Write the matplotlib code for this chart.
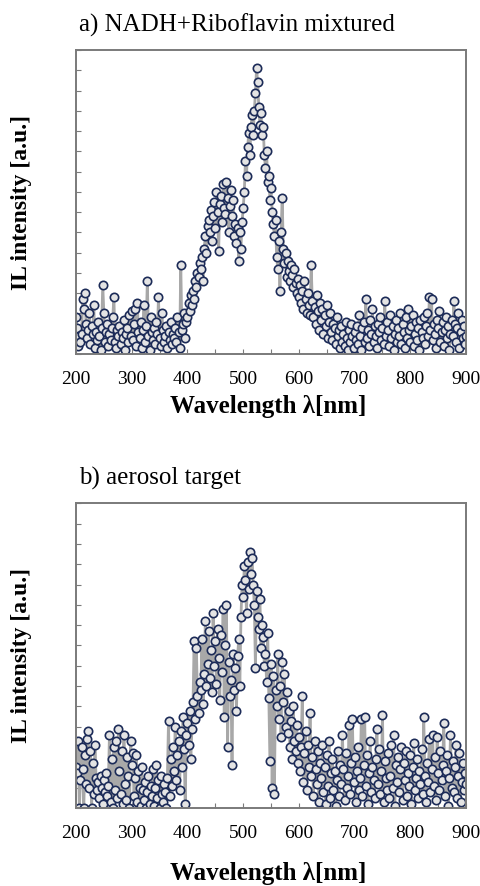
"""Intrinsic luminescence spectra: a) NADH+Riboflavin, b) aerosol target"""

import numpy as np
import matplotlib.pyplot as plt
from matplotlib.ticker import MultipleLocator

plt.rcParams["font.family"] = ["Liberation Serif", "DejaVu Serif"]

# wavelength grid of the spectrometer (2 nm sampling)
wavelength = np.arange(200, 901, 2)

# intensity, tenths of a y-tick unit
nadh_riboflavin = [
    18, 13, 4, 9, 6, 10, 27, 22, 30, 15,
    8, 12, 20, 5, 14, 10, 24, 3, 11, 7,
    16, 9, 2, 13, 34, 20, 6, 11, 15, 4,
    10, 7, 13, 18, 28, 6, 3, 12, 9, 14,
    5, 11, 8, 17, 2, 10, 13, 6, 19, 9,
    21, 7, 15, 22, 4, 25, 11, 8, 16, 3,
    12, 24, 6, 14, 36, 9, 2, 18, 11, 7,
    13, 5, 16, 10, 28, 8, 4, 20, 12, 6,
    9, 14, 3, 11, 7, 16, 5, 10, 8, 13,
    6, 18, 11, 3, 44, 12, 15, 20, 8, 16,
    18, 25, 21, 29, 24, 31, 27, 36, 33, 40,
    38, 45, 42, 48, 36, 52, 58, 50, 63, 66,
    60, 71, 56, 68, 75, 62, 80, 70, 51, 74,
    78, 65, 84, 72, 69, 85, 77, 60, 73, 81,
    68, 76, 58, 64, 55, 62, 46, 60, 52, 65,
    72, 80, 95, 88, 102, 109, 98, 112, 118, 108,
    120, 129, 141, 134, 122, 113, 119, 108, 112, 98,
    92, 100, 85, 88, 76, 82, 70, 64, 58, 66,
    48, 42, 56, 31, 60, 77, 52, 45, 50, 38,
    46, 41, 36, 44, 39, 33, 42, 35, 30, 37,
    28, 34, 25, 31, 22, 36, 27, 20, 30, 24,
    19, 44, 26, 18, 23, 15, 29, 21, 12, 25,
    17, 22, 10, 19, 14, 24, 8, 16, 20, 11,
    7, 15, 13, 5, 18, 9, 12, 3, 14, 6,
    10, 4, 16, 8, 2, 12, 6, 15, 9, 3,
    11, 7, 14, 5, 19, 9, 2, 13, 16, 6,
    27, 8, 12, 4, 17, 10, 22, 6, 14, 9,
    3, 15, 11, 18, 7, 13, 5, 26, 9, 16,
    12, 4, 19, 8, 14, 2, 10, 17, 6, 13,
    9, 20, 5, 15, 11, 3, 18, 8, 22, 12,
    6, 14, 19, 4, 10, 16, 7, 13, 2, 17,
    11, 8, 18, 5, 14, 20, 9, 28, 12, 27,
    7, 15, 10, 3, 17, 13, 21, 6, 11, 16,
    4, 12, 18, 8, 14, 2, 10, 17, 9, 26,
    15, 6, 13, 20, 3, 11, 17, 8, 14, 5,
    9,
]

aerosol = [
    20, 17, 33, 0, 14, 30, 19, 0, 26, 12,
    34, 38, 10, 28, 0, 22, 7, 31, 15, 9,
    13, 5, 16, 10, 2, 14, 8, 17, 6, 11,
    36, 3, 24, 0, 30, 9, 33, 5, 39, 18,
    7, 28, 2, 36, 12, 4, 25, 16, 0, 33,
    21, 27, 6, 15, 26, 3, 18, 10, 1, 20,
    9, 4, 13, 0, 8, 16, 2, 11, 6, 19,
    1, 10, 21, 5, 14, 0, 16, 7, 3, 12,
    8, 0, 15, 43, 6, 24, 11, 30, 18, 40,
    14, 26, 33, 9, 38, 20, 45, 29, 2, 36,
    42, 31, 48, 24, 39, 52, 82, 44, 79, 55,
    47, 62, 58, 83, 51, 66, 92, 60, 71, 87,
    64, 78, 57, 96, 70, 82, 61, 88, 74, 53,
    85, 67, 98, 45, 80, 100, 30, 72, 55, 63,
    21, 76, 58, 69, 48, 75, 83, 60, 94, 110,
    104, 119, 112, 96, 121, 108, 126, 115, 123, 110,
    100, 69, 107, 94, 88, 103, 79, 90, 84, 70,
    76, 62, 86, 54, 23, 71, 10, 65, 7, 58,
    50, 76, 44, 60, 35, 72, 52, 66, 40, 57,
    37, 48, 30, 43, 24, 50, 33, 28, 41, 22,
    35, 18, 30, 55, 13, 27, 38, 9, 31, 20,
    47, 16, 25, 6, 33, 19, 12, 28, 3, 22,
    15, 31, 8, 20, 2, 26, 11, 33, 5, 17,
    24, 9, 18, 1, 14, 28, 6, 21, 12, 36,
    19, 4, 27, 10, 16, 41, 7, 22, 44, 13,
    25, 3, 18, 30, 9, 15, 44, 6, 21, 45,
    11, 26, 2, 17, 33, 8, 20, 14, 5, 24,
    39, 12, 29, 7, 18, 46, 3, 23, 15, 9,
    27, 5, 16, 31, 10, 36, 1, 21, 13, 25,
    8, 19, 30, 4, 22, 14, 28, 6, 17, 11,
    26, 2, 20, 32, 9, 15, 24, 5, 18, 12,
    29, 7, 45, 16, 3, 22, 13, 34, 8, 19,
    36, 11, 25, 4, 35, 17, 9, 28, 14, 21,
    42, 6, 18, 26, 1, 15, 36, 10, 23, 8,
    20, 31, 5, 16, 27, 3, 13, 22, 9, 17,
    12,
]

titles = ["a) NADH+Riboflavin mixtured", "b) aerosol target"]
xticks = [200, 300, 400, 500, 600, 700, 800, 900]

line_color = "#a8a8a8"
edge_color = "#1c2b58"
face_color = "#e4e4e4"
spine_color = "#7a7a7a"

fig = plt.figure(figsize=(4.81, 8.86), dpi=100)

# axes boxes in figure fractions: [left, bottom, width, height]
boxes = [[0.158, 0.6005, 0.811, 0.343], [0.158, 0.088, 0.811, 0.344]]
title_y = [0.972, 0.46]
xlabel_y = [0.541, 0.014]

for i, (series, title) in enumerate(zip([nadh_riboflavin, aerosol], titles)):
    ax = fig.add_axes(boxes[i])
    ax.plot(
        wavelength,
        np.array(series) / 10.0,
        color=line_color,
        lw=2.0,
        marker="o",
        ms=6.0,
        mec=edge_color,
        mfc=face_color,
        mew=1.2,
        zorder=2,
    )
    ax.set_xlim(200, 900)
    ax.set_ylim(0, 15)
    ax.set_xticks(xticks)
    ax.xaxis.set_minor_locator(MultipleLocator(50))
    ax.yaxis.set_major_locator(MultipleLocator(1))
    ax.set_yticklabels([])
    ax.tick_params(
        axis="both", which="both", direction="in", length=3.5,
        width=0.8, color=spine_color, top=False, right=False,
    )
    ax.tick_params(axis="x", labelsize=14, pad=12)
    for sp in ax.spines.values():
        sp.set_color(spine_color)
        sp.set_linewidth(1.4)

    fig.text(0.164, title_y[i], title, fontsize=18, ha="left", va="center")
    fig.text(
        0.557, xlabel_y[i], "Wavelength λ[nm]",
        fontsize=18, weight="bold", ha="center", va="center",
    )
    yc = boxes[i][1] + boxes[i][3] / 2
    fig.text(
        0.045, yc, "IL intensity [a.u.]", fontsize=17, weight="bold",
        rotation=90, ha="center", va="center",
    )

plt.savefig("out.png", dpi=100)
